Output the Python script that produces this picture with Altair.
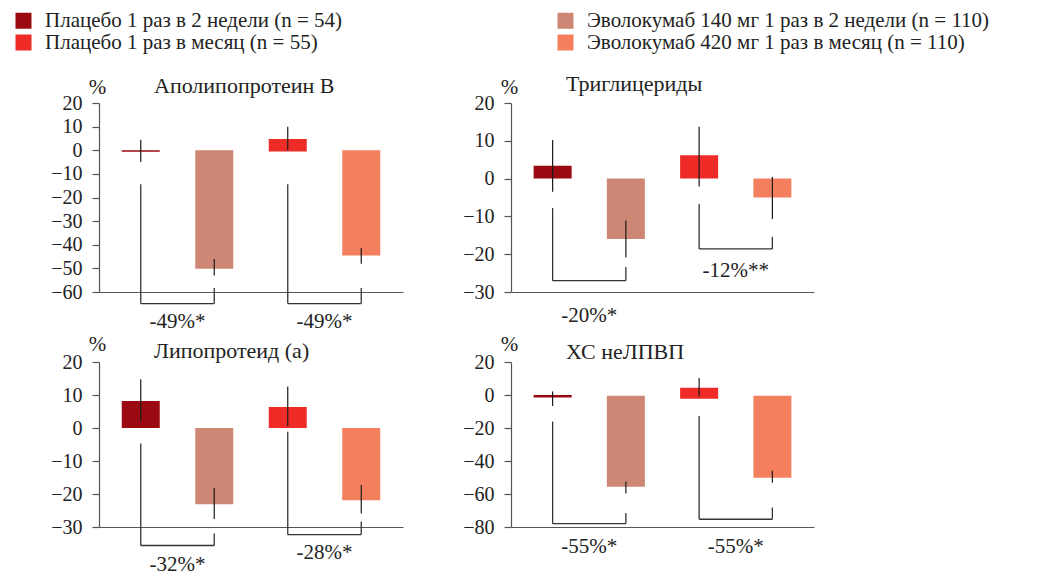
import altair as alt
import pandas as pd

FONT = "Liberation Serif"
TXT = "#222222"
AX = "#555555"

series = [
    "Плацебо 1 раз в 2 недели (n = 54)",
    "Эволокумаб 140 мг 1 раз в 2 недели (n = 110)",
    "Плацебо 1 раз в месяц (n = 55)",
    "Эволокумаб 420 мг 1 раз в месяц (n = 110)",
]
colors = ["#9B0A10", "#CE8774", "#EE2B27", "#F37F5E"]
# legend is filled column by column: placebo groups left, evolocumab right
legend_order = [0, 2, 1, 3]
bar_pos = [1, 2, 3, 4]
bracket_left = [1, 3]
bracket_right = [2, 4]

titles = ["Аполипопротеин В", "Триглицериды", "Липопротеид (а)", "ХС неЛПВП"]

# Apolipoprotein B
apob_value = [-0.6, -50.2, 4.8, -44.6]
apob_start = [0, 0, -0.5, 0]
apob_err_lo = [-5.0, -53.0, 0.0, -48.0]
apob_err_hi = [4.4, -46.0, 10.0, -41.4]
apob_br_left_top = [-14.4, -14.4]
apob_br_bottom = [-64.9, -64.9]
apob_br_right_top = [-58.3, -58.3]
apob_label_y = [-75.3, -75.3]
apob_labels = ["-49%*", "-49%*"]

# Triglycerides
tg_value = [3.4, -16.0, 6.2, -5.0]
tg_start = [0, 0, 0, 0]
tg_err_lo = [-3.5, -20.9, -2.1, -10.7]
tg_err_hi = [10.2, -11.1, 13.7, 0.4]
tg_br_left_top = [-7.8, -6.7]
tg_br_bottom = [-27.0, -18.6]
tg_br_right_top = [-23.4, -15.4]
tg_label_y = [-37.9, -26.0]
tg_labels = ["-20%*", "-12%**"]

# Lipoprotein (a)
lpa_value = [8.2, -23.1, 6.4, -21.9]
lpa_start = [0, 0, 0, 0]
lpa_err_lo = [1.9, -27.6, 0.6, -25.9]
lpa_err_hi = [14.8, -18.2, 12.6, -17.3]
lpa_br_left_top = [-4.7, -1.1]
lpa_br_bottom = [-35.6, -32.3]
lpa_br_right_top = [-32.0, -28.3]
lpa_label_y = [-43.3, -39.8]
lpa_labels = ["-32%*", "-28%*"]

# non-HDL cholesterol
nhdl_value = [-1.5, -55.6, 4.4, -50.2]
nhdl_start = [0, -0.5, -2.3, -0.5]
nhdl_err_lo = [-6.6, -59.7, -0.9, -53.2]
nhdl_err_hi = [2.1, -52.6, 10.3, -45.9]
nhdl_br_left_top = [-16.1, -12.7]
nhdl_br_bottom = [-78.0, -75.3]
nhdl_br_right_top = [-71.5, -68.2]
nhdl_label_y = [-96.0, -96.0]
nhdl_labels = ["-55%*", "-55%*"]

domains = [[-60, 20], [-30, 20], [-30, 20], [-80, 20]]
ticks = [list(range(-60, 21, 10)), list(range(-30, 21, 10)),
         list(range(-30, 21, 10)), list(range(-80, 21, 20))]

color_scale = alt.Scale(domain=[series[i] for i in legend_order],
                        range=[colors[i] for i in legend_order])


def panel(title, value, start, err_lo, err_hi, blt, bbot, brt, ly, labels,
          domain, yticks, width, height, title_dy, pct_y):
    bars = pd.DataFrame({"series": series, "pos": bar_pos, "value": value,
                         "start": start, "lo": err_lo, "hi": err_hi})
    br = pd.DataFrame({"xl": bracket_left, "xr": bracket_right, "lt": blt,
                       "bot": bbot, "rt": brt, "ly": ly, "label": labels})
    br["xm"] = (br["xl"] + br["xr"]) / 2

    xs = alt.Scale(domain=[0.5, 4.5], nice=False, zero=False)
    ys = alt.Scale(domain=domain, nice=False, zero=False)
    yaxis = alt.Axis(values=yticks, title="%", titleAngle=0, titleAlign="center",
                     titleBaseline="alphabetic", titleX=-2, titleY=pct_y,
                     titleFont=FONT, titleFontSize=21, titleFontWeight="normal",
                     titleColor=TXT, labelFont=FONT, labelFontSize=20,
                     labelColor=TXT, labelPadding=10, tickSize=7, tickColor=AX,
                     tickWidth=1.2, domainColor=AX, domainWidth=1.2, grid=False,
                     labelOverlap=False)
    xaxis = alt.Axis(ticks=False, labels=False, title=None, domainColor=AX,
                     domainWidth=1.2, grid=False)

    def X(f):
        return alt.X(f, scale=xs, axis=xaxis)

    def Y(f):
        return alt.Y(f, scale=ys, axis=yaxis)

    bar_layer = alt.Chart(bars).mark_bar(size=38).encode(
        x=X("pos:Q"), y=Y("value:Q"), y2="start:Q",
        color=alt.Color("series:N", scale=color_scale, title=None),
    )
    err = alt.Chart(bars).mark_rule(color="#1a1a1a", strokeWidth=1.2).encode(
        x=X("pos:Q"), y=Y("lo:Q"), y2="hi:Q",
    )
    rule_style = dict(color="#333333", strokeWidth=1.3)
    left = alt.Chart(br).mark_rule(**rule_style).encode(
        x=X("xl:Q"), y=Y("lt:Q"), y2="bot:Q",
    )
    horiz = alt.Chart(br).mark_rule(**rule_style).encode(
        x=X("xl:Q"), x2="xr:Q", y=Y("bot:Q"),
    )
    right = alt.Chart(br).mark_rule(**rule_style).encode(
        x=X("xr:Q"), y=Y("rt:Q"), y2="bot:Q",
    )
    text = alt.Chart(br).mark_text(font=FONT, fontSize=21, color=TXT,
                                   align="center", baseline="alphabetic").encode(
        x=X("xm:Q"), y=Y("ly:Q"), text="label:N",
    )
    return alt.layer(bar_layer, err, left, horiz, right, text).properties(
        width=width, height=height,
        title=alt.TitleParams(text=title, anchor="start", frame="group", dx=55,
                              dy=title_dy, font=FONT, fontSize=22,
                              fontWeight="normal", color=TXT,
                              baseline="alphabetic"),
    )


p1 = panel(titles[0], apob_value, apob_start, apob_err_lo, apob_err_hi,
           apob_br_left_top, apob_br_bottom, apob_br_right_top, apob_label_y,
           apob_labels, domains[0], ticks[0], 304, 189, 43, -10)
p2 = panel(titles[1], tg_value, tg_start, tg_err_lo, tg_err_hi,
           tg_br_left_top, tg_br_bottom, tg_br_right_top, tg_label_y,
           tg_labels, domains[1], ticks[1], 303, 189, 41, -10)
p3 = panel(titles[2], lpa_value, lpa_start, lpa_err_lo, lpa_err_hi,
           lpa_br_left_top, lpa_br_bottom, lpa_br_right_top, lpa_label_y,
           lpa_labels, domains[2], ticks[2], 304, 165, 51, -12)
p4 = panel(titles[3], nhdl_value, nhdl_start, nhdl_err_lo, nhdl_err_hi,
           nhdl_br_left_top, nhdl_br_bottom, nhdl_br_right_top, nhdl_label_y,
           nhdl_labels, domains[3], ticks[3], 303, 165, 52, -12)

chart = alt.concat(p1, p2, p3, p4, columns=2, spacing={"row": 70, "column": 108},
                   bounds="flush").properties(
    padding={"left": 5, "top": 2, "right": 5, "bottom": 5}
).configure_view(stroke=None).configure_legend(
    orient="none", legendX=-86, legendY=-93, columns=2, symbolType="square",
    symbolSize=256, symbolStrokeWidth=0, labelFont=FONT, labelFontSize=21,
    labelColor=TXT, labelOffset=11, rowPadding=0, columnPadding=212,
    labelLimit=0,
)

chart.save("out.html", embed_options={"renderer": "svg", "actions": False})
